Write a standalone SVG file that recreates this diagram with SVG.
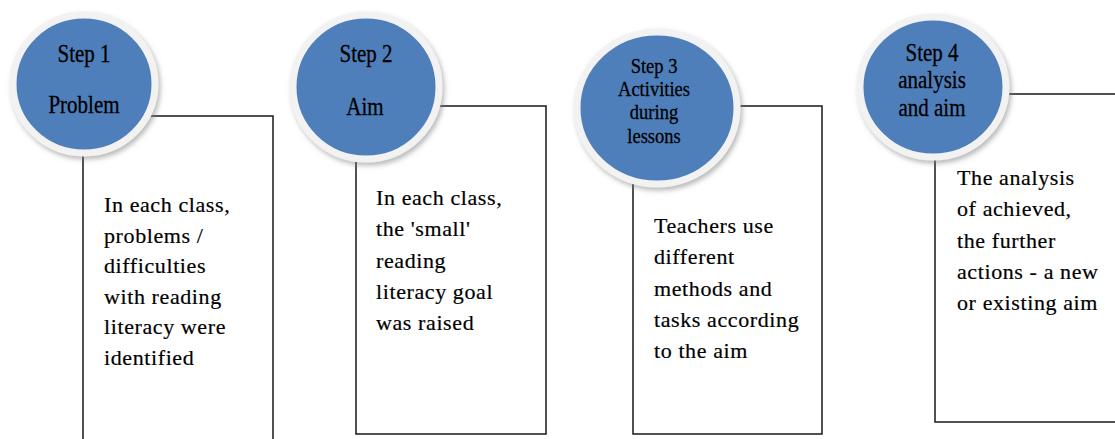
<svg xmlns="http://www.w3.org/2000/svg" width="1115" height="439" viewBox="0 0 1115 439">
<defs>
<filter id="sh" x="-20%" y="-20%" width="150%" height="150%">
<feDropShadow dx="2" dy="3" stdDeviation="2.5" flood-color="#7f7f7f" flood-opacity="0.55"/>
</filter>
<style>
.box{fill:none;stroke:#262626;stroke-width:1.6}
.circ{fill:#4F7FBA;stroke:#F2F2F2;stroke-width:7;filter:url(#sh)}
.lbl{font-family:"Liberation Serif","Times New Roman",serif;fill:#000;stroke:#000;stroke-width:0.25;text-anchor:middle}
.body{font-family:"Liberation Serif","Times New Roman",serif;font-size:22px;letter-spacing:0.6px;fill:#000;stroke:#000;stroke-width:0.2}
</style>
</defs>
<rect width="1115" height="439" fill="#fff"/>
<g id="connectors">
<rect class="box" x="83" y="116" width="190" height="340"/>
<rect class="box" x="356" y="106" width="190" height="328"/>
<rect class="box" x="633" y="106" width="189" height="328"/>
<rect class="box" x="935" y="94" width="200" height="328"/>
</g>
<g id="step1">
<ellipse class="circ" cx="84" cy="84" rx="71" ry="69"/>
<text class="lbl" font-size="21" transform="translate(84 62) scale(1 1.15)">Step 1</text>
<text class="lbl" font-size="21" transform="translate(84 113) scale(1 1.15)">Problem</text>
<text class="body"><tspan x="104" y="212">In each class,</tspan><tspan x="104" y="242.5">problems /</tspan><tspan x="104" y="273">difficulties</tspan><tspan x="104" y="303.5">with reading</tspan><tspan x="104" y="334">literacy were</tspan><tspan x="104" y="365">identified</tspan></text>
</g>
<g id="step2">
<ellipse class="circ" cx="366" cy="87" rx="73" ry="72"/>
<text class="lbl" font-size="21" transform="translate(366 62) scale(1 1.15)">Step 2</text>
<text class="lbl" font-size="21" transform="translate(365 115) scale(1 1.15)">Aim</text>
<text class="body"><tspan x="376" y="205">In each class,</tspan><tspan x="376" y="236">the 'small'</tspan><tspan x="376" y="267.5">reading</tspan><tspan x="376" y="299">literacy goal</tspan><tspan x="376" y="330">was raised</tspan></text>
</g>
<g id="step3">
<ellipse class="circ" cx="657" cy="108" rx="80" ry="76"/>
<text class="lbl" font-size="18.5" transform="translate(654 73) scale(1 1.15)">Step 3</text>
<text class="lbl" font-size="18.5" transform="translate(654 96) scale(1 1.15)">Activities</text>
<text class="lbl" font-size="18.5" transform="translate(654 119) scale(1 1.15)">during</text>
<text class="lbl" font-size="18.5" transform="translate(654 143) scale(1 1.15)">lessons</text>
<text class="body"><tspan x="654" y="233">Teachers use</tspan><tspan x="654" y="264">different</tspan><tspan x="654" y="295.5">methods and</tspan><tspan x="654" y="327">tasks according</tspan><tspan x="654" y="358">to the aim</tspan></text>
</g>
<g id="step4">
<ellipse class="circ" cx="933" cy="87" rx="73" ry="70"/>
<text class="lbl" font-size="21" transform="translate(932 61) scale(1 1.15)">Step 4</text>
<text class="lbl" font-size="21" transform="translate(932 88) scale(1 1.15)">analysis</text>
<text class="lbl" font-size="21" transform="translate(932 116) scale(1 1.15)">and aim</text>
<text class="body"><tspan x="957" y="185">The analysis</tspan><tspan x="957" y="216">of achieved,</tspan><tspan x="957" y="247.5">the further</tspan><tspan x="957" y="279">actions  - a new</tspan><tspan x="957" y="310">or existing aim</tspan></text>
</g>
</svg>
